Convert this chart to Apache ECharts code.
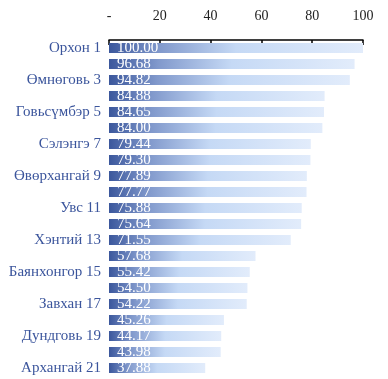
<!DOCTYPE html>
<html><head><meta charset="utf-8">
<script src="https://cdn.jsdelivr.net/npm/echarts@6/dist/echarts.min.js"></script>
<style>html,body{margin:0;padding:0;background:#fff}#c{width:388px;height:379px}</style>
</head><body><div id="c"></div>
<script>
var categories = ["Орхон 1","2","Өмнөговь 3","4","Говьсүмбэр 5","6","Сэлэнгэ 7","8","Өвөрхангай 9","10","Увс 11","12","Хэнтий 13","14","Баянхонгор 15","16","Завхан 17","18","Дундговь 19","20","Архангай 21"];
var values = [100.00,96.68,94.82,84.88,84.65,84.00,79.44,79.30,77.89,77.77,75.88,75.64,71.55,57.68,55.42,54.50,54.22,45.26,44.17,43.98,37.88];
var xTicks = [0,20,40,60,80,100];

var chart = echarts.init(document.getElementById('c'));
var serif = '"Liberation Serif", "DejaVu Serif", serif';
chart.setOption({
  animation: false,
  grid: {left: 109, right: 25, top: 40, bottom: 3, containLabel: false},
  xAxis: {
    type: 'value', position: 'top', min: 0, max: 100, interval: 20,
    axisLine: {show: true, lineStyle: {color: '#000', width: 1.5}},
    axisTick: {show: true, inside: true, length: 5, lineStyle: {color: '#000', width: 1.5}},
    splitLine: {show: false},
    axisLabel: {margin: 17, color: '#222', fontFamily: serif, fontSize: 14,
      formatter: function(v){ return v === xTicks[0] ? '-' : String(v); }}
  },
  yAxis: {
    type: 'category', inverse: true, data: categories,
    axisLine: {show: false}, axisTick: {show: false},
    axisLabel: {interval: 1, margin: 8, color: '#3b559c', fontFamily: serif, fontSize: 15}
  },
  series: [{
    type: 'bar', data: values, barWidth: 10,
    itemStyle: {color: new echarts.graphic.LinearGradient(0,0,1,0,[
      {offset: 0, color: '#3b579c'},
      {offset: 0.2, color: '#8199cc'},
      {offset: 0.5, color: '#c5d9f5'},
      {offset: 1, color: '#e2ecfb'}
    ])},
    label: {show: true, position: 'insideLeft', distance: 8, color: '#fff',
      fontFamily: serif, fontSize: 15,
      formatter: function(p){ return p.value.toFixed(2); }}
  }]
});
</script></body></html>
